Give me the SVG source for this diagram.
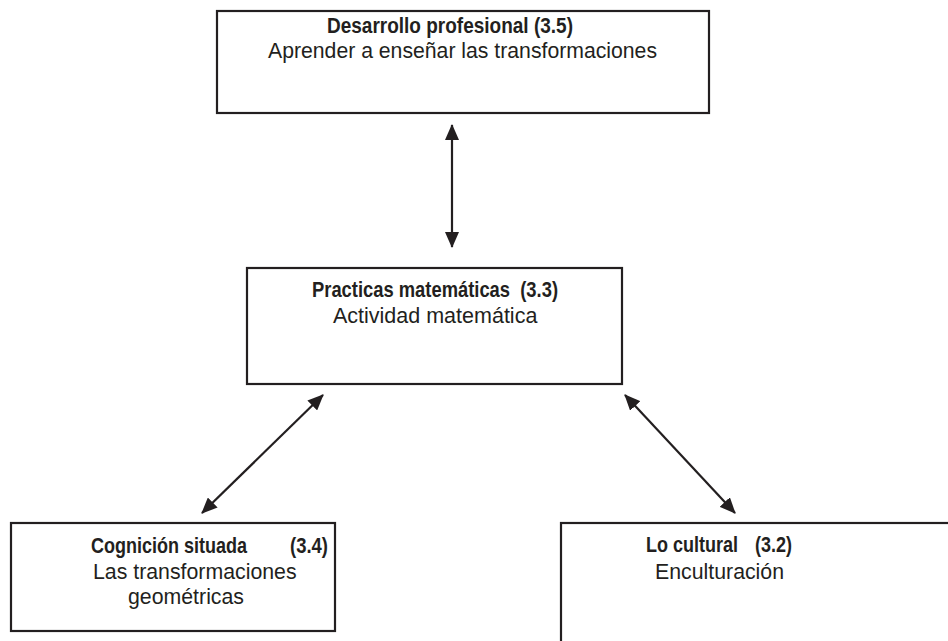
<svg xmlns="http://www.w3.org/2000/svg" width="948" height="641" viewBox="0 0 948 641">
  <style>
    .box { fill: #ffffff; stroke: #231f20; stroke-width: 2.2; }
    .t { font-family: "Liberation Sans", Arial, sans-serif; fill: #231f20; white-space: pre; }
    .b { font-weight: bold; font-size: 22px; }
    .r { font-size: 21.3px; }
    .link { stroke: #231f20; stroke-width: 2.2; fill: none; marker-start: url(#head); marker-end: url(#head); }
  </style>
  <defs>
    <marker id="head" viewBox="0 0 16 14" refX="15" refY="7" markerWidth="16" markerHeight="14" markerUnits="userSpaceOnUse" orient="auto-start-reverse">
      <path d="M0,0 L16,7 L0,14 z" fill="#231f20"/>
    </marker>
  </defs>

  <rect width="948" height="641" fill="#ffffff"/>

  <g id="connectors">
    <line class="link" x1="452" y1="125" x2="452" y2="247"/>
    <line class="link" x1="323" y1="395" x2="202" y2="513"/>
    <line class="link" x1="625" y1="395" x2="735" y2="513"/>
  </g>

  <g id="desarrollo-profesional">
    <rect class="box" x="217" y="11" width="492" height="102"/>
    <text class="t b" x="327" y="33" textLength="246" lengthAdjust="spacingAndGlyphs">Desarrollo profesional (3.5)</text>
    <text class="t r" x="268" y="58" textLength="389" lengthAdjust="spacingAndGlyphs">Aprender a enseñar las transformaciones</text>
  </g>

  <g id="practicas-matematicas">
    <rect class="box" x="247" y="268" width="375" height="116"/>
    <text class="t b" x="312" y="297" textLength="246" lengthAdjust="spacingAndGlyphs">Practicas matemáticas  (3.3)</text>
    <text class="t r" x="333" y="323" style="font-size:21.5px">Actividad matemática</text>
  </g>

  <g id="cognicion-situada">
    <rect class="box" x="11" y="523" width="324" height="108"/>
    <text class="t b" x="91" y="553" textLength="156" lengthAdjust="spacingAndGlyphs">Cognición situada</text>
    <text class="t b" x="290" y="553" textLength="38" lengthAdjust="spacingAndGlyphs">(3.4)</text>
    <text class="t r" x="93" y="579">Las transformaciones</text>
    <text class="t r" x="128" y="604">geométricas</text>
  </g>

  <g id="lo-cultural">
    <rect class="box" x="561" y="523" width="420" height="140"/>
    <text class="t b" x="646" y="552" textLength="92" lengthAdjust="spacingAndGlyphs">Lo cultural</text>
    <text class="t b" x="755" y="552" textLength="37" lengthAdjust="spacingAndGlyphs">(3.2)</text>
    <text class="t r" x="655" y="579">Enculturación</text>
  </g>
</svg>
